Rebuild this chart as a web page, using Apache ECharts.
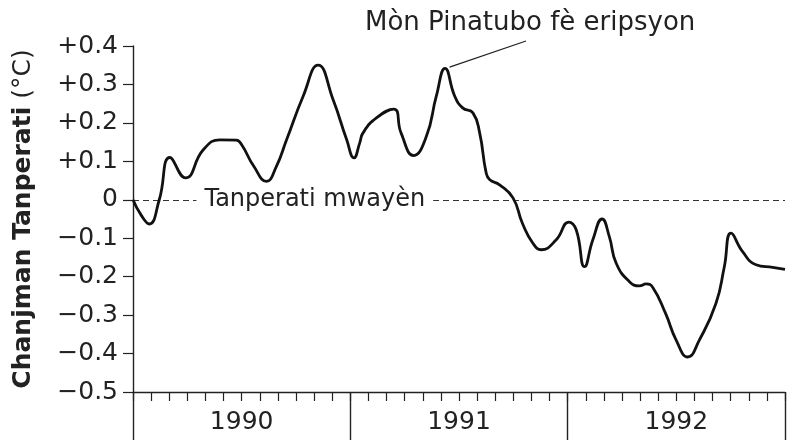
<!DOCTYPE html>
<html>
<head>
<meta charset="utf-8">
<script src="https://cdn.jsdelivr.net/npm/echarts@6/dist/echarts.min.js"></script>
<style>
  html, body { margin: 0; padding: 0; background: #fff; }
  #chart { width: 793px; height: 440px; }
</style>
</head>
<body>
<div id="chart"></div>
<script>
// Months since 1 Jan 1990
const months = [0, 0.45, 0.9, 1.45, 2.04, 2.9, 3.88, 4.8, 5.7, 6.0, 6.67, 7.37, 7.9, 8.48, 9.4, 10.22, 11.05, 11.8, 12.2, 12.52, 12.7, 13.44, 14.4, 14.8, 15.5, 16.2, 16.75, 17.23, 17.76, 18.2, 18.77, 19.14, 19.5, 19.7, 20.24, 20.98, 21.5, 22.08, 22.54, 23.37, 24.06, 24.47, 24.93, 25.39, 25.9, 26.3, 26.68, 27.41, 27.96, 28.33, 28.7, 29.4, 29.99, 30.63, 31.27, 32.19, 32.65, 33.02, 33.66, 34.4, 35.32, 36];
// Temperature change (°C)
const anomaly = [0, -0.04, -0.063, 0, 0.110, 0.057, 0.13, 0.156, 0.155, 0.143, 0.087, 0.048, 0.085, 0.156, 0.27, 0.350, 0.26, 0.156, 0.109, 0.148, 0.174, 0.213, 0.236, 0.174, 0.115, 0.165, 0.27, 0.342, 0.27, 0.239, 0.226, 0.174, 0.07, 0.052, 0.039, 0.005, -0.061, -0.113, -0.130, -0.104, -0.058, -0.078, -0.174, -0.104, -0.050, -0.096, -0.165, -0.213, -0.224, -0.219, -0.228, -0.295, -0.365, -0.409, -0.365, -0.269, -0.174, -0.087, -0.135, -0.169, -0.176, -0.181];

const yTicks = [-0.5, -0.4, -0.3, -0.2, -0.1, 0, 0.1, 0.2, 0.3, 0.4];
const yTickLabels = ['\u22120.5', '\u22120.4', '\u22120.3', '\u22120.2', '\u22120.1', '0', '+0.1', '+0.2', '+0.3', '+0.4'];
const yearMid = [6, 18, 30];
const yearLabels = ['1990', '1991', '1992'];
const averageLabel = 'Tanperati mwayèn';
const averageLabelMonth = 10.04;
const pinatuboMonth = 17.48;
const pinatuboValue = 0.345;
const titleText = 'Mòn Pinatubo fè eripsyon';

const FONT = 'DejaVu Sans';
const INK = '#222';

const chart = echarts.init(document.getElementById('chart'), null, { renderer: 'canvas' });
chart.setOption({
  animation: false,
  backgroundColor: '#fff',
  title: {
    text: titleText,
    left: 365,
    top: 10,
    padding: 0,
    textStyle: { fontFamily: FONT, fontSize: 26, fontWeight: 'normal', color: INK }
  },
  grid: { left: 133, right: 8, top: 46, bottom: 48, containLabel: false },
  xAxis: [
    {
      type: 'value', min: 0, max: 36, interval: 1, position: 'bottom',
      axisLine: { show: true, onZero: false, lineStyle: { color: INK, width: 1.4 } },
      axisTick: { show: true, length: 9, lineStyle: { color: INK, width: 1.2 } },
      splitLine: { show: false },
      axisLabel: {
        show: true, margin: 18, fontFamily: FONT, fontSize: 25, color: INK,
        showMinLabel: true, showMaxLabel: true,
        formatter: function (v) {
          const i = yearMid.indexOf(Math.round(v * 1000) / 1000);
          return i >= 0 ? yearLabels[i] : '';
        }
      }
    },
    {
      type: 'value', min: 0, max: 36, interval: 12, position: 'bottom',
      axisLine: { show: false, onZero: false },
      axisTick: { show: true, length: 48, lineStyle: { color: INK, width: 1.4 } },
      splitLine: { show: false },
      axisLabel: { show: false }
    }
  ],
  yAxis: {
    type: 'value', min: -0.5, max: 0.4, interval: 0.1,
    axisLine: { show: true, onZero: false, lineStyle: { color: INK, width: 1.4 } },
    axisTick: { show: true, length: 10, lineStyle: { color: INK, width: 1.2 } },
    splitLine: { show: false },
    axisLabel: {
      margin: 15, fontFamily: FONT, fontSize: 25, color: INK,
      formatter: function (v) {
        let best = 0, d = Infinity;
        yTicks.forEach(function (t, i) { if (Math.abs(t - v) < d) { d = Math.abs(t - v); best = i; } });
        return yTickLabels[best];
      }
    },
    name: '{b|Chanjman Tanperati} (°C)',
    nameLocation: 'middle',
    nameGap: 97,
    nameRotate: 90,
    nameTextStyle: {
      fontFamily: FONT, fontSize: 25, color: INK,
      rich: { b: { fontFamily: FONT, fontSize: 25, fontWeight: 'bold', color: INK } }
    }
  },
  series: [
    {
      type: 'line',
      xAxisIndex: 0,
      data: months.map(function (m, i) { return [m, anomaly[i]]; }),
      smooth: 0.5,
      showSymbol: false,
      clip: false,
      z: 5,
      lineStyle: { color: '#111', width: 2.8 },
      markLine: {
        silent: true,
        symbol: 'none',
        animation: false,
        label: { show: false },
        data: [
          [{ coord: [0, 0] }, { coord: [36, 0] }],
          [{ coord: [pinatuboMonth, pinatuboValue], lineStyle: { type: 'solid', width: 1.3, color: INK } }, { x: 526, y: 41 }]
        ],
        lineStyle: { type: [6, 4], color: '#333', width: 1.2 }
      },
      markPoint: {
        silent: true,
        symbol: 'rect',
        symbolSize: 1,
        itemStyle: { color: 'rgba(0,0,0,0)' },
        data: [{
          coord: [averageLabelMonth, 0],
          label: {
            show: true, position: 'inside', formatter: averageLabel,
            fontFamily: FONT, fontSize: 24, color: INK,
            backgroundColor: '#fff', padding: [0, 8]
          }
        }]
      }
    }
  ]
});
</script>
</body>
</html>
